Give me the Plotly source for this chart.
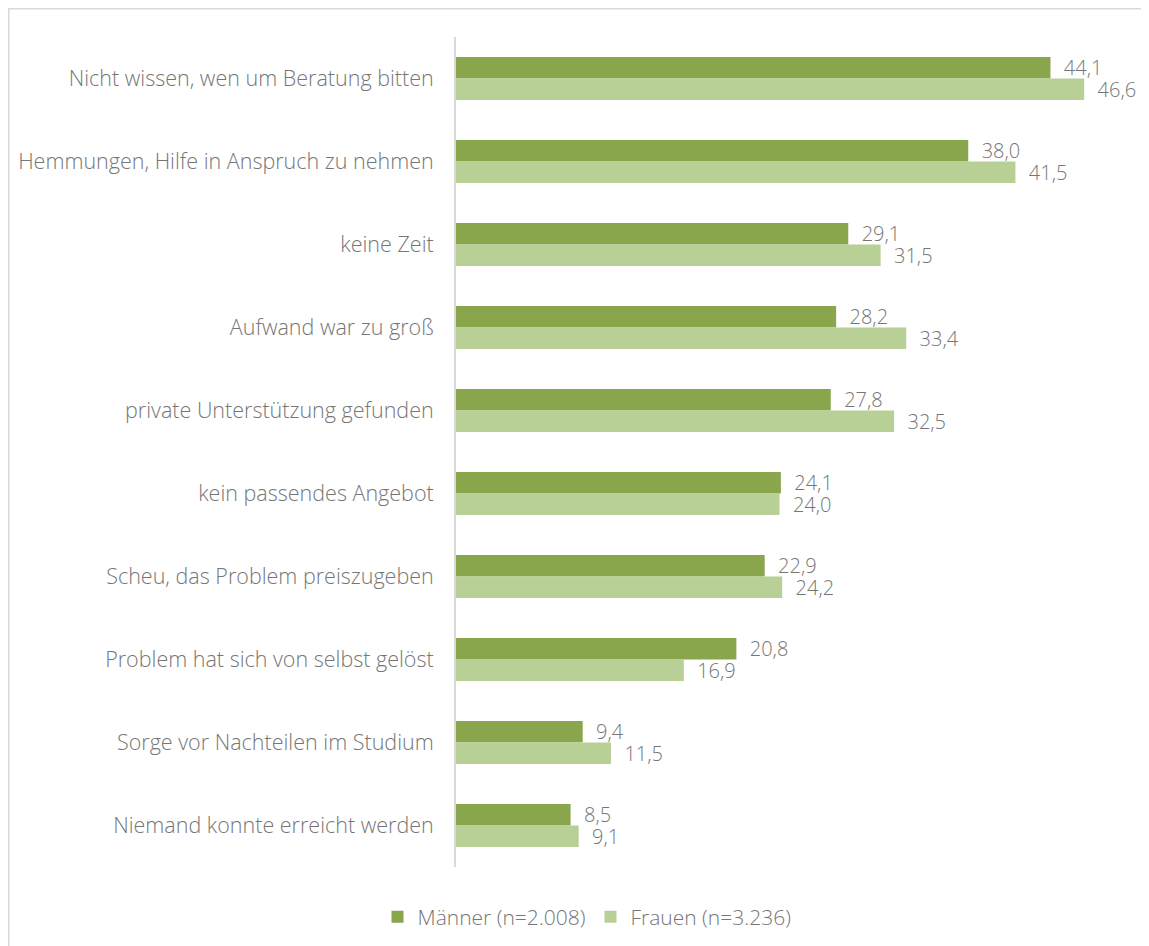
import plotly.graph_objects as go

categories = [
    "Nicht wissen, wen um Beratung bitten",
    "Hemmungen, Hilfe in Anspruch zu nehmen",
    "keine Zeit",
    "Aufwand war zu groß",
    "private Unterstützung gefunden",
    "kein passendes Angebot",
    "Scheu, das Problem preiszugeben",
    "Problem hat sich von selbst gelöst",
    "Sorge vor Nachteilen im Studium",
    "Niemand konnte erreicht werden",
]
maenner = [44.1, 38.0, 29.1, 28.2, 27.8, 24.1, 22.9, 20.8, 9.4, 8.5]
frauen = [46.6, 41.5, 31.5, 33.4, 32.5, 24.0, 24.2, 16.9, 11.5, 9.1]
series_names = ["Männer (n=2.008)", "Frauen (n=3.236)"]

W, H = 1141, 938
L, R, T, B = 448, 1122, 29, 859

def fmt(v):
    return "\u00a0\u00a0" + f"{v:.1f}".replace(".", ",")

TEXT = "#767676"
FONT = "Open Sans"
FS = 20

fig = go.Figure()
for name, vals, col in [(series_names[0], maenner, "#8aa64c"), (series_names[1], frauen, "#b8cf96")]:
    fig.add_trace(go.Bar(
        y=categories, x=vals, orientation="h", name=name,
        marker=dict(color=col, line=dict(width=0)),
        text=[fmt(v) for v in vals], textposition="outside", constraintext="none",
        textfont=dict(size=FS, color=TEXT, family=FONT, weight=300),
        cliponaxis=False,
    ))

fig.update_layout(
    width=W, height=H,
    margin=dict(l=L, r=W - R, t=T, b=H - B, autoexpand=False),
    barmode="group", bargap=0.48, bargroupgap=0,
    plot_bgcolor="white", paper_bgcolor="white",
    font=dict(family=FONT, size=FS, color=TEXT, weight=300),
    xaxis=dict(range=[0, 50], visible=False, showgrid=False, zeroline=False),
    yaxis=dict(autorange="reversed", showline=True, linecolor="#d9d9d9", linewidth=2,
               ticks="", showgrid=False, ticklabelstandoff=16,
               tickfont=dict(size=21.5, color=TEXT, family=FONT, weight=300)),
    legend=dict(orientation="h", xref="container", yref="container", x=579 / W, y=1 - 909 / H,
                xanchor="center", yanchor="middle",
                font=dict(size=21, color=TEXT, family=FONT, weight=300),
                itemwidth=30, tracegroupgap=0, traceorder="normal"),
    showlegend=True,
)

def px_x(p):
    return (p - L) / (R - L)

def px_y(p):
    return (B - p) / (B - T)

fig.add_shape(type="line", xref="paper", yref="paper", x0=px_x(0), x1=px_x(W), y0=px_y(0.75), y1=px_y(0.75),
              line=dict(color="#d9d9d9", width=1.5))
fig.add_shape(type="line", xref="paper", yref="paper", x0=px_x(0.75), x1=px_x(0.75), y0=px_y(0), y1=px_y(H),
              line=dict(color="#d9d9d9", width=1.5))

fig.write_html("out.html")
